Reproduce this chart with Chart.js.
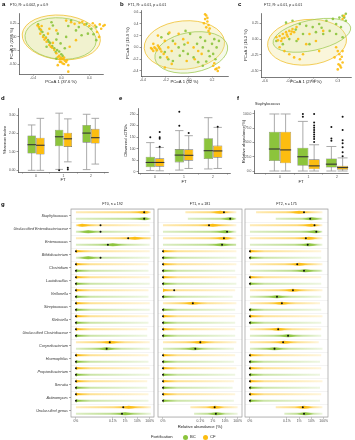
<!DOCTYPE html>
<html>
<head>
<meta charset="utf-8">
<title>Microbiota by fortification</title>
<script src="https://cdn.jsdelivr.net/npm/chart.js@4.4.1/dist/chart.umd.min.js"></script>
<style>
  body { margin: 0; width: 355px; height: 440px; position: relative; overflow: hidden; background: #fff;
         font-family: "Liberation Sans", Arial, sans-serif; }
  canvas { position: absolute; }
  .txt { position: absolute; white-space: nowrap; color: #1a1a1a; line-height: 1; }
  .tag { position: absolute; font-weight: bold; font-size: 6px; line-height: 1; color: #000; }
  .dot { position: absolute; width: 5px; height: 5px; border-radius: 50%; }
</style>
</head>
<body>
<script>
// colours
const BC_COLOR = '#8cc43c';
const CF_COLOR = '#fcbd10';
const BC_RGB = [140, 196, 60];
const CF_RGB = [252, 189, 16];

// ---------- PCoA points (a-c), [PCoA1, PCoA2] ----------
const ft0CF = [[-0.34,0.21],[-0.32,0.18],[-0.29,0.13],[-0.30,0.06],[-0.26,0.00],[-0.24,-0.05],[-0.21,-0.09],
  [-0.17,-0.15],[-0.13,-0.20],[-0.10,-0.24],[-0.07,-0.30],[-0.03,-0.35],[-0.01,-0.38],[0.01,-0.40],[0.03,-0.41],
  [0.05,-0.44],[0.00,-0.46],[0.02,-0.49],[0.07,-0.46],[0.10,-0.52],[-0.02,-0.41],[-0.05,-0.37],[-0.12,-0.11],
  [-0.19,0.06],[0.07,0.30],[0.14,0.27],[0.19,0.24],[0.26,0.26],[0.33,0.23],[0.40,0.20],[0.48,0.21],[0.55,0.23],
  [0.60,0.20],[0.62,0.22],[0.51,0.09],[0.54,0.00],[0.10,-0.64],[-0.05,-0.52],[-0.17,0.15],[-0.07,0.12],
  [0.21,-0.06],[0.12,-0.18],[-0.28,0.20],[-0.22,-0.02],[-0.15,-0.18],[0.04,-0.38],[0.08,-0.43],[-0.02,-0.46],
  [0.45,0.25],[0.57,0.15],[0.30,0.28],[0.04,-0.50]];
const ft0BC = [[-0.33,0.23],[-0.31,0.15],[-0.27,0.09],[-0.25,0.03],[-0.22,-0.01],[-0.19,-0.06],[-0.16,-0.11],
  [-0.13,-0.17],[-0.10,-0.21],[-0.06,-0.24],[-0.03,-0.27],[0.00,-0.32],[0.02,-0.35],[-0.14,0.27],[-0.12,0.21],
  [-0.05,0.06],[0.07,0.00],[0.14,0.30],[0.21,0.12],[0.29,0.03],[0.36,0.24],[0.43,0.15],[0.50,0.18],[0.50,-0.06],
  [0.05,-0.21],[-0.01,-0.12],[-0.07,-0.05],[-0.21,-0.18],[-0.07,-0.40],[0.38,0.06],[-0.29,0.12],[-0.18,-0.09],
  [-0.08,-0.28],[0.10,0.20],[0.25,0.18],[0.46,0.05]];
const ft1CF = [[-0.32,-0.03],[-0.31,-0.06],[-0.30,0.00],[-0.28,-0.05],[-0.27,0.03],[-0.25,-0.03],[-0.24,-0.07],
  [-0.31,0.06],[-0.21,0.11],[-0.18,0.00],[-0.15,-0.06],[-0.12,0.06],[-0.22,-0.11],[-0.19,-0.17],[0.14,0.56],
  [0.15,0.54],[0.14,0.48],[0.16,0.44],[0.17,0.38],[0.15,0.34],[0.17,0.28],[0.18,0.23],[0.13,0.41],[0.21,-0.31],
  [0.23,-0.37],[0.25,-0.40],[0.26,-0.34],[-0.09,0.23],[-0.05,0.14],[-0.01,0.08],[0.04,0.00],[0.08,-0.06],
  [0.11,-0.11],[0.05,-0.20],[-0.02,-0.23],[-0.15,-0.28],[-0.21,-0.34],[-0.27,0.20],[-0.17,0.25],[-0.33,-0.01],
  [-0.29,-0.02],[-0.26,0.00],[0.16,0.50],[0.18,0.32],[0.24,-0.36],[0.22,-0.27]];
const ft1BC = [[-0.24,0.17],[-0.18,0.23],[-0.14,0.11],[-0.09,0.00],[-0.05,-0.06],[-0.01,-0.11],[0.04,-0.17],
  [0.08,-0.25],[0.12,-0.31],[0.17,-0.06],[0.20,0.06],[0.21,-0.11],[0.23,-0.20],[0.14,0.11],[0.10,0.17],
  [0.01,0.23],[-0.03,0.28],[-0.08,-0.14],[-0.14,-0.23],[-0.18,-0.20],[-0.25,-0.17],[-0.21,-0.08],[0.24,0.00],
  [0.26,0.11],[0.12,0.00],[0.07,0.06],[0.18,-0.15],[0.15,-0.24],[-0.04,0.05],[0.22,0.14]];
const ft2CF = [[-0.46,0.03],[-0.44,-0.02],[-0.42,0.05],[-0.40,-0.03],[-0.38,0.08],[-0.36,0.02],[-0.34,0.11],
  [-0.32,0.04],[-0.30,0.13],[-0.28,0.08],[-0.26,0.16],[-0.24,0.11],[-0.21,0.19],[-0.19,0.00],[-0.42,-0.13],
  [-0.36,-0.19],[-0.30,-0.24],[-0.24,-0.29],[-0.17,-0.32],[-0.13,-0.24],[-0.09,-0.08],[-0.05,0.08],[0.03,-0.03],
  [0.07,-0.19],[0.12,0.13],[0.28,-0.13],[0.30,-0.19],[0.32,-0.24],[0.33,-0.32],[0.31,-0.40],[0.34,-0.45],
  [0.30,-0.48],[0.36,-0.37],[0.36,-0.19],[0.26,-0.29],[0.38,0.37],[0.36,0.32],[-0.39,0.01],[-0.33,0.07],
  [-0.27,0.12],[0.33,-0.42],[0.35,-0.28]];
const ft2BC = [[-0.34,0.26],[-0.26,0.29],[-0.17,0.24],[-0.09,0.21],[-0.01,0.19],[0.07,0.24],[0.16,0.29],
  [0.24,0.32],[0.32,0.34],[0.36,0.37],[0.40,0.40],[0.40,0.29],[0.12,0.08],[0.20,0.13],[0.28,0.08],[0.36,0.03],
  [0.03,0.11],[-0.13,0.08],[-0.21,-0.03],[-0.30,0.00],[-0.38,-0.08],[-0.46,-0.03],[-0.05,-0.08],[0.28,0.24],
  [0.34,0.19],[0.38,0.34],[0.10,0.18],[-0.22,0.15]];

// ellipses: [centre x, centre y, radius x, radius y, tilt in degrees]
const ft0EllCF = [0.00, -0.01, 0.56, 0.41, -5];
const ft0EllBC = [-0.01, -0.03, 0.51, 0.38, -5];
const ft1EllCF = [-0.04, 0.04, 0.35, 0.41, 5];
const ft1EllBC = [0.02, -0.085, 0.32, 0.34, 10];
const ft2EllCF = [-0.08, -0.05, 0.49, 0.36, 5];
const ft2EllBC = [-0.02, 0.06, 0.49, 0.24, 12];

// ---------- boxplots (d-f), per FT: [min, q1, median, q3, max] ----------
const ftTicks = [0, 1, 2];
const ftLabels = ['0', '1', '2'];
const shannonBC = [[0, 0.91, 1.39, 1.89, 2.46], [0.05, 1.3, 1.82, 2.2, 3.1], [0.04, 1.5, 2.02, 2.46, 3.04]];
const shannonCF = [[0, 0.86, 1.36, 1.77, 2.82], [0.46, 1.27, 1.71, 2.04, 2.79], [0.34, 1.45, 1.77, 2.25, 2.82]];
const shannonOutBC = [[], [0.0], []];
const shannonOutCF = [[], [0.04, 0.14], []];
const otuBC = [[5, 19, 40, 65, 126], [7, 40, 72, 98, 178], [12, 55, 91, 145, 234]];
const otuCF = [[4, 22, 40, 58, 105], [14, 48, 71, 97, 156], [14, 61, 90, 113, 192]];
const otuOutBC = [[149], [199, 260], []];
const otuOutCF = [[108, 143, 149, 172], [168], [195]];
const staphBC = [[0, 17.5, 38.6, 69, 100], [0, 9, 25, 41, 87], [0, 6, 12, 22, 43]];
const staphCF = [[0, 13.5, 37, 69, 100], [0, 3, 9, 20.5, 46], [0, 2, 6, 9, 23]];
const staphOutBC = [[], [95, 100], [53, 57, 77]];
const staphOutCF = [[], [100, 85, 80, 76, 72, 68, 64, 60, 56, 51], [26, 33, 41.5, 48.5, 54, 72, 95]];

// ---------- relative abundance ridges (g), x = log10(%) with 0 % at -4 ----------
const genera = ['Staphylococcus', 'Unclassified Enterobacteriaceae', 'Enterococcus', 'Bifidobacterium',
  'Clostridium', 'Lactobacillus', 'Veillonella', 'Streptococcus', 'Klebsiella', 'Unclassified Clostridiaceae',
  'Corynebacterium', 'Haemophilus', 'Propionibacterium', 'Serratia', 'Actinomyces', 'Unclassified genus'];
const abundTicks = [-4, -1, 0, 1, 2];
const abundLabels = ['0%', '0.1%', '1%', '10%', '100%'];

const ft0CfRange = [[-4,2.1],[-4,2.0],[-4,2.1],[-4,2.0],[-4,1.9],[-4,2.0],[-4,1.9],[-4,2.0],[-4,1.9],[-4,1.8],[-4,2.0],[-4,1.9],[-4,2.0],[-4,1.8],[-4,1.9],[-4,2.1]];
const ft0CfPeak = [1.6,-3.5,0.8,-4,-4,-4,-4,-4,-4,-4,-1.2,-4,-4,-4,-4,0.3];
const ft0CfMed = [1.55,-2.0,0.25,-4,-4,-4,-4,-4,-4,-4,-1.25,-4,-4,-4,-4,-0.15];
const ft0BcRange = [[-4,2.1],[-4,2.0],[-4,2.0],[-4,2.0],[-4,1.9],[-4,2.0],[-4,1.9],[-4,2.0],[-4,1.9],[-4,1.8],[-4,2.0],[-4,1.9],[-4,2.0],[-4,1.8],[-4,1.9],[-4,2.1]];
const ft0BcPeak = [1.6,-3,-1,-3,-4,-4,-4,-4,-4,-4,-1.5,-4,-4,-4,-4,0];
const ft0BcMed = [1.55,-2.0,-1.4,-2.0,-4,-4,-4,-4,-4,-4,-1.5,-4,-4,-4,-4,-0.25];

const ft1CfRange = [[-2.2,1.9],[-4,1.9],[-4,1.9],[-4,1.9],[-4,1.9],[-4,1.9],[-4,1.8],[-4,1.9],[-4,1.8],[-4,1.8],[-4,1.9],[-4,1.8],[-4,1.9],[-4,1.7],[-4,1.8],[-1.8,2.0]];
const ft1CfPeak = [0.6,0,0.9,-4,-4,-4,-4,-1.6,-4,-4,-1.0,-4,-4,-4,-4,0.2];
const ft1CfMed = [0.9,-0.3,0.9,-4,-4,-4,-3.1,-1.6,-4,-4,-1.0,-4,-4,-4,-4,0.15];
const ft1BcRange = [[-2.0,1.9],[-4,1.9],[-4,1.9],[-4,1.9],[-4,1.8],[-4,1.9],[-4,1.6],[-4,1.8],[-4,1.8],[-4,1.8],[-4,1.7],[-4,1.7],[-4,1.8],[-4,1.6],[-4,1.7],[-1.5,2.0]];
const ft1BcPeak = [1.4,1.0,0.7,-4,-4,-4,-4,-4,-4,-4,-1.5,-4,-4,-4,-4,0.3];
const ft1BcMed = [1.4,1.15,0.75,-4,-4,-4,-4,-4,-4,-4,-1.4,-4,-4,-4,-4,0.25];

const ft2CfRange = [[-3.5,1.9],[-4,1.9],[-4,1.9],[-4,1.8],[-4,1.9],[-4,1.8],[-4,1.9],[-4,1.7],[-4,1.9],[-4,1.8],[-4,1.6],[-4,1.8],[-4,1.8],[-4,1.9],[-4,1.8],[-1.9,1.9]];
const ft2CfPeak = [0.0,1.0,0.8,-4,0,-4,-0.5,-1.4,-4,-1.7,-1.2,-4,-4,-4,-4,0.4];
const ft2CfMed = [0.4,1.25,0.55,-4,-0.15,-4,-0.5,-1.4,-4,-1.7,-1.3,-4,-4,-4,-4,0.3];
const ft2BcRange = [[-1.9,1.9],[-4,1.9],[-4,1.9],[-4,1.8],[-4,1.9],[-4,1.8],[-4,1.8],[-4,1.8],[-4,1.8],[-4,1.8],[-4,1.9],[-4,1.7],[-4,1.7],[-4,1.7],[-4,1.7],[-1.2,1.9]];
const ft2BcPeak = [1.0,1.3,0.8,-4,0.5,-4,-1.8,-4,-4,-0.9,-2.0,-4,-4,-4,-4,0.5];
const ft2BcMed = [0.9,1.4,0.7,-4,0.4,-4,-1.8,-4,-4,-0.9,-2.0,-4,-4,-4,-4,0.4];

// ---------------------------------------------------------------
Chart.defaults.font.family = '"Liberation Sans", Arial, sans-serif';
Chart.defaults.color = '#4d4d4d';
const TITLE_FS = 4.2;
const LH = TITLE_FS * 1.2;

function addCanvas(l, t, w, h) {
  const c = document.createElement('canvas');
  c.width = w; c.height = h;
  c.style.left = l + 'px'; c.style.top = t + 'px';
  c.style.width = w + 'px'; c.style.height = h + 'px';
  document.body.appendChild(c);
  return c;
}

function addText(text, l, cy, size, style) {
  const d = document.createElement('div');
  d.className = 'txt';
  d.textContent = text;
  d.style.left = l + 'px';
  d.style.top = (cy - size / 2) + 'px';
  d.style.fontSize = size + 'px';
  if (style) Object.assign(d.style, style);
  document.body.appendChild(d);
  return d;
}

function addTag(letter, l, t) {
  const d = document.createElement('div');
  d.className = 'tag';
  d.textContent = letter;
  d.style.left = l + 'px'; d.style.top = t + 'px';
  document.body.appendChild(d);
}

function rgba(rgb, a) {
  return `rgba(${rgb[0]},${rgb[1]},${rgb[2]},${a})`;
}

function valueAxis(min, max, ticks, labels, title, size, horizontal) {
  return {
    type: 'linear', min: min, max: max, offset: false,
    afterBuildTicks: s => { s.ticks = ticks.map(v => ({ value: v })); },
    afterFit: s => { if (horizontal) s.height = size; else s.width = size; },
    ticks: { autoSkip: false, maxRotation: 0, padding: 1, color: '#4d4d4d', font: { size: 3.4 },
      callback: (v, i) => labels[i] },
    grid: { display: true, drawOnChartArea: false, tickLength: 1.5, color: '#333', lineWidth: 0.5 },
    border: { display: true, color: '#222', width: 0.6 },
    title: { display: !!title, text: title, color: '#1a1a1a', font: { size: TITLE_FS }, padding: 0 }
  };
}

// plot rectangle -> layout padding and axis sizes
function frame(w, h, plot, yTitleCx, xTitleCy) {
  const left = yTitleCx - LH / 2;
  const bottom = xTitleCy + LH / 2;
  return {
    padding: { left: left, top: plot.t, right: w - plot.r, bottom: h - bottom },
    yWidth: plot.l - left,
    xHeight: bottom - plot.b
  };
}

function ellipsePlugin(list) {
  return {
    id: 'ellipses',
    beforeDatasetsDraw(chart) {
      const { ctx, scales: { x, y } } = chart;
      list.forEach(([e, stroke, fill]) => {
        const [cx, cy, rx, ry, deg] = e;
        const px = x.getPixelForValue(cx), py = y.getPixelForValue(cy);
        const rpx = Math.abs(x.getPixelForValue(cx + rx) - px);
        const rpy = Math.abs(y.getPixelForValue(cy + ry) - py);
        ctx.save();
        ctx.beginPath();
        ctx.ellipse(px, py, rpx, rpy, -deg * Math.PI / 180, 0, Math.PI * 2);
        ctx.fillStyle = fill;
        ctx.fill();
        ctx.lineWidth = 0.8;
        ctx.strokeStyle = stroke;
        ctx.stroke();
        ctx.restore();
      });
    }
  };
}

function pcoaChart(p) {
  const [l, t, w, h] = p.box;
  const f = frame(w, h, p.plot, p.yTitleCx, p.xTitleCy);
  const toPts = arr => arr.map(([x, y]) => ({ x: x, y: y }));
  new Chart(addCanvas(l, t, w, h), {
    type: 'scatter',
    data: {
      datasets: [
        { label: 'CF', data: toPts(p.cf), backgroundColor: 'rgba(252,189,16,0.9)', borderWidth: 0, pointRadius: 1.3, clip: false },
        { label: 'BC', data: toPts(p.bc), backgroundColor: 'rgba(140,196,60,0.9)', borderWidth: 0, pointRadius: 1.3, clip: false }
      ]
    },
    options: {
      responsive: false, animation: false, events: [],
      layout: { padding: f.padding },
      plugins: { legend: { display: false }, tooltip: { enabled: false } },
      scales: {
        x: valueAxis(p.xr[0], p.xr[1], p.xTicks, p.xLabels, p.xTitle, f.xHeight, true),
        y: valueAxis(p.yr[0], p.yr[1], p.yTicks, p.yLabels, p.yTitle, f.yWidth, false)
      }
    },
    plugins: [ellipsePlugin([
      [p.ellCF, '#f0c030', 'rgba(243,236,175,0.45)'],
      [p.ellBC, '#a2cc58', 'rgba(215,233,170,0.25)']
    ])]
  });
  addText(p.title, p.titleX, p.titleY, 3.6);
}

const boxPlugin = {
  id: 'boxes',
  beforeDatasetsDraw(chart) {
    const { ctx, scales: { y } } = chart;
    chart.data.datasets.forEach((ds, di) => {
      chart.getDatasetMeta(di).data.forEach((el, j) => {
        const s = ds.stats[j];
        const cap = el.width * 0.45;
        ctx.save();
        ctx.strokeStyle = '#a0a0a0';
        ctx.lineWidth = 0.9;
        ctx.beginPath();
        ctx.moveTo(el.x, y.getPixelForValue(s[0]));
        ctx.lineTo(el.x, y.getPixelForValue(s[4]));
        [s[0], s[4]].forEach(v => {
          ctx.moveTo(el.x - cap, y.getPixelForValue(v));
          ctx.lineTo(el.x + cap, y.getPixelForValue(v));
        });
        ctx.stroke();
        ctx.restore();
      });
    });
  },
  afterDatasetsDraw(chart) {
    const { ctx, scales: { y } } = chart;
    chart.data.datasets.forEach((ds, di) => {
      chart.getDatasetMeta(di).data.forEach((el, j) => {
        const s = ds.stats[j];
        ctx.save();
        ctx.strokeStyle = '#333';
        ctx.lineWidth = 1.1;
        ctx.beginPath();
        ctx.moveTo(el.x - el.width / 2, y.getPixelForValue(s[2]));
        ctx.lineTo(el.x + el.width / 2, y.getPixelForValue(s[2]));
        ctx.stroke();
        ctx.fillStyle = '#111';
        ds.outliers[j].forEach(v => {
          ctx.beginPath();
          ctx.arc(el.x, y.getPixelForValue(v), 1, 0, Math.PI * 2);
          ctx.fill();
        });
        ctx.restore();
      });
    });
  }
};

function boxChart(p) {
  const [l, t, w, h] = p.box;
  const f = frame(w, h, p.plot, p.yTitleCx, p.xTitleCy);
  const bars = stats => stats.map((s, i) => ({ x: i, y: [s[1], s[3]] }));
  const common = { borderColor: '#707070', borderWidth: 0.6, borderSkipped: false,
    categoryPercentage: p.cp, barPercentage: 0.98 };
  new Chart(addCanvas(l, t, w, h), {
    type: 'bar',
    data: {
      datasets: [
        Object.assign({ label: 'BC', data: bars(p.bc), stats: p.bc, outliers: p.bcOut, backgroundColor: BC_COLOR }, common),
        Object.assign({ label: 'CF', data: bars(p.cf), stats: p.cf, outliers: p.cfOut, backgroundColor: CF_COLOR }, common)
      ]
    },
    options: {
      responsive: false, animation: false, events: [],
      layout: { padding: f.padding },
      plugins: { legend: { display: false }, tooltip: { enabled: false } },
      scales: {
        x: valueAxis(p.xr[0], p.xr[1], ftTicks, ftLabels, 'FT', f.xHeight, true),
        y: valueAxis(p.yr[0], p.yr[1], p.yTicks, p.yLabels, p.yTitle, f.yWidth, false)
      }
    },
    plugins: [boxPlugin]
  });
}

function ridgeFill(c) {
  const ds = c.dataset, i = c.dataIndex, chart = c.chart;
  if (i === undefined || !chart.chartArea) return rgba(ds.rgb, 0.5);
  const xs = chart.scales.x;
  const [s, e] = ds.data[i];
  const pk = Math.min(Math.max(ds.peaks[i], s), e);
  const x0 = xs.getPixelForValue(s), x1 = xs.getPixelForValue(e);
  const g = chart.ctx.createLinearGradient(x0, 0, x1, 0);
  const fr = (pk - s) / (e - s);
  g.addColorStop(0, rgba(ds.rgb, fr === 0 ? 1 : 0.3));
  if (fr > 0.2) g.addColorStop(fr - 0.2, rgba(ds.rgb, 0.55));
  g.addColorStop(fr, rgba(ds.rgb, 1));
  if (fr < 0.8) g.addColorStop(fr + 0.2, rgba(ds.rgb, 0.45));
  g.addColorStop(1, rgba(ds.rgb, 0.15));
  return g;
}

function ridgePlugin(showTicks) {
  return {
    id: 'ridges',
    beforeDatasetsDraw(chart) {
      const { ctx, chartArea: a, scales: { y } } = chart;
      ctx.save();
      if (showTicks) {
        ctx.strokeStyle = '#333';
        ctx.lineWidth = 0.5;
        ctx.beginPath();
        genera.forEach((g, i) => {
          const py = y.getPixelForValue(i);
          ctx.moveTo(a.left - 1.8, py);
          ctx.lineTo(a.left, py);
        });
        ctx.stroke();
      }
      ctx.restore();
    },
    afterDatasetsDraw(chart) {
      const { ctx, chartArea: a, scales: { x } } = chart;
      ctx.save();
      chart.data.datasets.forEach((ds, di) => {
        chart.getDatasetMeta(di).data.forEach((el, i) => {
          const [s, e] = ds.data[i];
          const pk = Math.max(ds.peaks[i], s);
          const px = x.getPixelForValue(pk), py = el.y;
          const atStart = pk <= s + 0.05;
          const L = atStart ? 8 : 9, hh = atStart ? 1.9 : 1.5;
          const left = atStart ? px : Math.max(px - L, x.getPixelForValue(s));
          const right = Math.min(px + L, x.getPixelForValue(e));
          const g = ctx.createLinearGradient(left, 0, right, 0);
          if (atStart) {
            g.addColorStop(0, rgba(ds.rgb, 1));
            g.addColorStop(1, rgba(ds.rgb, 0.2));
          } else {
            g.addColorStop(0, rgba(ds.rgb, 0.2));
            g.addColorStop((px - left) / (right - left), rgba(ds.rgb, 0.95));
            g.addColorStop(1, rgba(ds.rgb, 0.2));
          }
          ctx.fillStyle = g;
          ctx.beginPath();
          if (atStart) {
            ctx.moveTo(px, py - hh);
            ctx.quadraticCurveTo(px + (right - px) * 0.2, py - hh * 0.15, right, py);
            ctx.quadraticCurveTo(px + (right - px) * 0.2, py + hh * 0.15, px, py + hh);
          } else {
            ctx.moveTo(left, py);
            ctx.quadraticCurveTo(px - (px - left) * 0.4, py - hh, px, py - hh);
            ctx.quadraticCurveTo(px + (right - px) * 0.4, py - hh, right, py);
            ctx.quadraticCurveTo(px + (right - px) * 0.4, py + hh, px, py + hh);
            ctx.quadraticCurveTo(px - (px - left) * 0.4, py + hh, left, py);
          }
          ctx.closePath();
          ctx.fill();
        });
      });
      ctx.fillStyle = '#111';
      chart.data.datasets.forEach((ds, di) => {
        chart.getDatasetMeta(di).data.forEach((el, i) => {
          ctx.beginPath();
          ctx.arc(x.getPixelForValue(ds.medians[i]), el.y, 1.0, 0, Math.PI * 2);
          ctx.fill();
        });
      });
      ctx.strokeStyle = '#9a9a9a';
      ctx.lineWidth = 0.7;
      ctx.strokeRect(a.left, a.top, a.right - a.left, a.bottom - a.top);
      ctx.restore();
    }
  };
}

function ridgeChart(p) {
  const [l, t, w, h] = p.box;
  const xHeight = p.xTitle ? (p.xTitleCy + LH / 2 - p.plot.b) : 10;
  const ridge = { categoryPercentage: 1, barPercentage: 0.3, borderWidth: 0, backgroundColor: ridgeFill };
  new Chart(addCanvas(l, t, w, h), {
    type: 'bar',
    data: {
      labels: genera,
      datasets: [
        Object.assign({ label: 'CF', data: p.cfRange, peaks: p.cfPeak, medians: p.cfMed, rgb: CF_RGB }, ridge),
        Object.assign({ label: 'BC', data: p.bcRange, peaks: p.bcPeak, medians: p.bcMed, rgb: BC_RGB }, ridge)
      ]
    },
    options: {
      indexAxis: 'y',
      responsive: false, animation: false, events: [],
      layout: { padding: { left: 0, top: p.plot.t, right: w - p.plot.r, bottom: h - p.plot.b - xHeight } },
      plugins: { legend: { display: false }, tooltip: { enabled: false } },
      scales: {
        x: Object.assign(valueAxis(-4.4, 2.35, abundTicks, abundLabels, p.xTitle, xHeight, true),
          { border: { display: false } }),
        y: {
          type: 'category', offset: true,
          afterFit: s => { s.width = p.plot.l; },
          ticks: { display: p.labels, autoSkip: false, padding: 3, color: '#333',
            font: { size: 3.8, style: 'italic' } },
          grid: { display: true, offset: true, drawTicks: false, color: '#ececec', lineWidth: 0.6 },
          border: { display: false }
        }
      }
    },
    plugins: [ridgePlugin(p.labels)]
  });
  addText(p.title, l + (p.plot.l + p.plot.r) / 2, 205, 3.6, { transform: 'translateX(-50%)' });
}

// ---------- build ----------
pcoaChart({ box: [0, 0, 118, 92], plot: { l: 19, r: 103, t: 13, b: 74 }, yTitleCx: 12, xTitleCy: 82,
  xr: [-0.604, 0.596], yr: [-0.683, 0.44], xTicks: [-0.4, 0, 0.4], xLabels: ['-0.4', '0.0', '0.4'],
  yTicks: [-0.5, -0.25, 0, 0.25], yLabels: ['-0.50', '-0.25', '0.00', '0.25'],
  xTitle: 'PCoA 1 (37.6 %)', yTitle: 'PCoA 2 (22.6 %)', cf: ft0CF, bc: ft0BC, ellCF: ft0EllCF, ellBC: ft0EllBC,
  title: 'FT0, R² = 0.002, p = 0.9', titleX: 10, titleY: 6 });
pcoaChart({ box: [118, 0, 118, 92], plot: { l: 23, r: 110, t: 10, b: 76 }, yTitleCx: 10, xTitleCy: 82,
  xr: [-0.417, 0.339], yr: [-0.485, 0.634], xTicks: [-0.4, -0.2, 0, 0.2], xLabels: ['-0.4', '-0.2', '0.0', '0.2'],
  yTicks: [-0.4, -0.2, 0, 0.2, 0.4, 0.6], yLabels: ['-0.4', '-0.2', '0.0', '0.2', '0.4', '0.6'],
  xTitle: 'PCoA 1 (32 %)', yTitle: 'PCoA 2 (19.9 %)', cf: ft1CF, bc: ft1BC, ellCF: ft1EllCF, ellBC: ft1EllBC,
  title: 'FT1, R² = 0.01, p = 0.01', titleX: 128, titleY: 6 });
pcoaChart({ box: [236, 0, 119, 92], plot: { l: 25, r: 115, t: 13, b: 77 }, yTitleCx: 10, xTitleCy: 82,
  xr: [-0.65, 0.464], yr: [-0.6, 0.413], xTicks: [-0.6, -0.3, 0, 0.3], xLabels: ['-0.6', '-0.3', '0.0', '0.3'],
  yTicks: [-0.5, -0.25, 0, 0.25], yLabels: ['-0.50', '-0.25', '0.00', '0.25'],
  xTitle: 'PCoA 1 (27.9 %)', yTitle: 'PCoA 2 (16.2 %)', cf: ft2CF, bc: ft2BC, ellCF: ft2EllCF, ellBC: ft2EllBC,
  title: 'FT2, R² = 0.01, p = 0.01', titleX: 264, titleY: 6 });

boxChart({ box: [0, 95, 118, 95], plot: { l: 18, r: 108, t: 13, b: 77 }, yTitleCx: 5, xTitleCy: 85,
  xr: [-0.655, 2.62], yr: [-0.09, 3.38], yTicks: [0, 1, 2, 3], yLabels: ['0.00', '1.00', '2.00', '3.00'],
  yTitle: 'Shannon index', bc: shannonBC, cf: shannonCF, bcOut: shannonOutBC, cfOut: shannonOutCF, cp: 0.63 });
boxChart({ box: [118, 95, 118, 95], plot: { l: 20, r: 112, t: 13, b: 78 }, yTitleCx: 8, xTitleCy: 87,
  xr: [-0.586, 2.586], yr: [-5.6, 276], yTicks: [0, 50, 100, 150, 200, 250], yLabels: ['0', '50', '100', '150', '200', '250'],
  yTitle: 'Observed zOTUs', bc: otuBC, cf: otuCF, bcOut: otuOutBC, cfOut: otuOutCF, cp: 0.65 });
boxChart({ box: [236, 95, 119, 95], plot: { l: 18, r: 112, t: 15, b: 78 }, yTitleCx: 8, xTitleCy: 87,
  xr: [-0.912, 2.386], yr: [-3.5, 107], yTicks: [0, 25, 50, 75, 100], yLabels: ['0.0', '25.0', '50.0', '75.0', '100.0'],
  yTitle: 'Relative abundance(%)', bc: staphBC, cf: staphCF, bcOut: staphOutBC, cfOut: staphOutCF, cp: 0.79 });
addText('Staphylococcus', 255, 105, 3.6);

ridgeChart({ box: [0, 200, 157, 232], plot: { l: 71, r: 154, t: 9, b: 217 }, labels: true,
  cfRange: ft0CfRange, cfPeak: ft0CfPeak, cfMed: ft0CfMed, bcRange: ft0BcRange, bcPeak: ft0BcPeak, bcMed: ft0BcMed,
  title: 'FT0, n = 192' });
ridgeChart({ box: [155, 200, 90, 232], plot: { l: 3, r: 87, t: 9, b: 217 }, labels: false,
  cfRange: ft1CfRange, cfPeak: ft1CfPeak, cfMed: ft1CfMed, bcRange: ft1BcRange, bcPeak: ft1BcPeak, bcMed: ft1BcMed,
  title: 'FT1, n = 181', xTitle: 'Relative abundance (%)', xTitleCy: 227 });
ridgeChart({ box: [242, 200, 90, 232], plot: { l: 3, r: 86, t: 9, b: 217 }, labels: false,
  cfRange: ft2CfRange, cfPeak: ft2CfPeak, cfMed: ft2CfMed, bcRange: ft2BcRange, bcPeak: ft2BcPeak, bcMed: ft2BcMed,
  title: 'FT2, n = 175' });

// panel letters and legend
[['a', 2, 1], ['b', 120, 1], ['c', 238, 1], ['d', 1, 95], ['e', 119, 95], ['f', 237, 95], ['g', 1, 201]]
  .forEach(([s, x, y]) => addTag(s, x, y));
addText('Fortification', 151, 437, 4.2);
[[BC_COLOR, 185, 'BC', 190], [CF_COLOR, 205, 'CF', 210]].forEach(([col, cx, lab, tx]) => {
  const d = document.createElement('div');
  d.className = 'dot';
  d.style.background = col;
  d.style.left = (cx - 2.5) + 'px';
  d.style.top = (437 - 2.5) + 'px';
  document.body.appendChild(d);
  addText(lab, tx, 437, 4.2);
});
</script>
</body>
</html>
